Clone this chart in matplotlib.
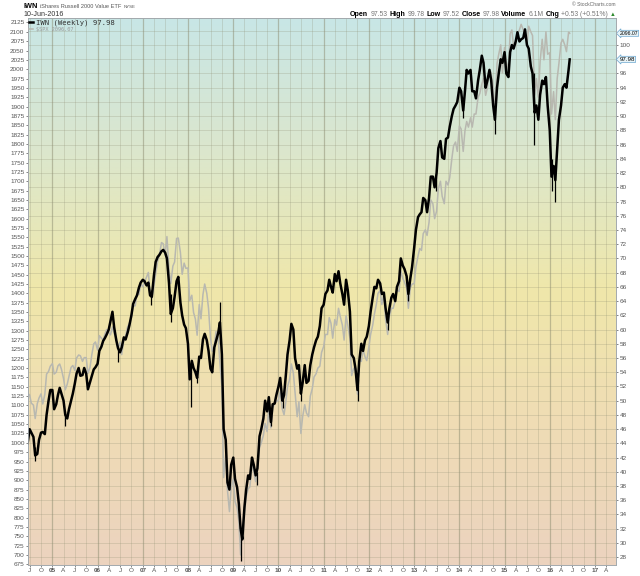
import numpy as np
import pandas as pd
import matplotlib
matplotlib.use("Agg")
import matplotlib.pyplot as plt
import matplotlib.dates as mdates
from matplotlib.colors import LinearSegmentedColormap

# semi-monthly closes (1st and 15th of each month), Jun 2004 .. Jun 2016
iwn_close = [
    44.0, 46.0, 45.5, 44.9, 42.3, 42.5, 44.5, 45.5, 45.6, 45.3, 48.0, 50.0, 51.5,  # 2004
    51.5, 48.8, 49.5, 50.8, 51.8, 51.0, 50.0, 48.0, 47.5, 48.8, 50.0, 51.0,
    52.4, 53.8, 54.6, 53.5, 53.6, 54.6, 53.8, 51.6, 52.6, 53.4, 54.4, 54.7,  # 2005
    55.2, 57.0, 57.6, 58.4, 58.8, 59.3, 60.0, 61.2, 62.5, 60.3, 58.5, 57.4,
    56.8, 57.5, 58.9, 58.6, 59.6, 60.6, 62.0, 63.6, 64.3, 64.8, 65.9, 66.6,  # 2006
    67.0, 66.8, 66.2, 66.6, 64.8, 64.6, 67.6, 69.5, 70.2, 70.5, 71.0, 71.2,
    70.8, 70.0, 66.5, 62.2, 63.0, 64.6, 66.8, 67.4, 63.8, 62.0, 60.7, 60.2,  # 2007
    58.0, 53.0, 55.6, 54.6, 54.0, 53.2, 56.2, 56.0, 58.6, 59.4, 58.5, 57.0,
    54.5, 54.0, 57.5, 58.4, 59.5, 61.0, 56.5, 46.0, 44.5, 38.5, 37.5, 41.0,  # 2008
    42.0, 39.0, 37.8, 35.5, 32.0, 30.5, 35.0, 37.5, 39.5, 39.0, 42.0, 41.0,
    39.5, 40.5, 45.0, 46.0, 47.5, 50.0, 48.5, 50.5, 47.0, 49.5, 49.6, 50.8,  # 2009
    52.0, 53.2, 50.0, 50.8, 53.5, 56.5, 58.5, 60.8, 60.0, 56.0, 54.5, 55.0,
    51.0, 52.5, 55.0, 52.5, 52.8, 55.0, 56.5, 57.5, 58.5, 59.0, 60.5, 63.0,  # 2010
    63.5, 65.0, 65.5, 67.0, 66.0, 65.2, 67.8, 66.8, 68.2, 66.5, 65.0, 63.5,
    67.0, 65.5, 62.5, 56.5, 56.0, 54.5, 51.5, 55.5, 58.0, 57.0, 58.5, 59.0,  # 2011
    60.5, 62.5, 64.5, 66.0, 65.8, 67.0, 66.5, 65.0, 65.2, 63.0, 61.0, 63.0,
    64.5, 65.0, 64.0, 66.0, 66.8, 70.0, 69.0, 68.5, 67.5, 65.0, 67.2, 68.8,  # 2012
    71.5, 74.0, 75.8, 76.2, 76.5, 78.5, 78.2, 76.5, 78.5, 81.5, 81.5, 80.0,
    82.0, 85.5, 86.5, 84.2, 84.0, 86.8, 87.0, 88.5, 90.0, 91.0, 91.5, 92.0,  # 2013
    94.0, 93.5, 90.8, 93.5, 96.5, 96.0, 96.5, 93.5, 93.5, 92.5, 95.0, 96.5,
    98.5, 97.5, 94.0, 95.0, 96.5, 95.0, 91.5, 89.5, 94.0, 96.0, 98.0, 97.5,  # 2014
    99.0, 96.0, 95.5, 99.0, 100.0, 99.5, 100.5, 101.8, 100.5, 100.8, 101.0, 102.2,
    100.0, 99.5, 97.0, 96.0, 90.5, 91.5, 89.5, 93.0, 95.0, 94.5, 95.5, 91.5,  # 2015
    88.0, 81.5, 83.0, 81.0, 85.5, 89.5, 91.5, 94.0, 94.5, 94.0, 96.5, 97.98,  # 2016
]

spx_close = [
    1133, 1128, 1106, 1101, 1065, 1105, 1120, 1131, 1104, 1130, 1184, 1191, 1205,  # 2004
    1212, 1184, 1189, 1206, 1211, 1197, 1172, 1142, 1157, 1178, 1202, 1207,
    1194, 1227, 1235, 1233, 1218, 1228, 1228, 1186, 1202, 1235, 1265, 1270,  # 2005
    1248, 1287, 1280, 1275, 1291, 1303, 1295, 1289, 1310, 1292, 1280, 1252,
    1270, 1236, 1276, 1286, 1311, 1320, 1335, 1365, 1367, 1397, 1397, 1425,  # 2006
    1418, 1430, 1445, 1456, 1403, 1387, 1420, 1452, 1486, 1502, 1536, 1533,
    1503, 1552, 1465, 1426, 1473, 1484, 1547, 1548, 1509, 1451, 1481, 1467,  # 2007
    1468, 1380, 1395, 1349, 1331, 1288, 1370, 1332, 1397, 1425, 1400, 1360,
    1280, 1245, 1260, 1298, 1282, 1213, 1150, 907, 968, 873, 816, 880,  # 2008
    903, 843, 826, 790, 700, 770, 811, 856, 877, 882, 942, 923,
    896, 932, 987, 1000, 1020, 1052, 1030, 1090, 1040, 1093, 1105, 1110,  # 2009
    1115, 1136, 1090, 1075, 1110, 1150, 1170, 1211, 1187, 1135, 1070, 1110,
    1025, 1070, 1102, 1080, 1070, 1125, 1145, 1176, 1185, 1200, 1205, 1242,  # 2010
    1258, 1290, 1290, 1335, 1320, 1280, 1330, 1315, 1360, 1338, 1315, 1275,
    1340, 1315, 1280, 1180, 1200, 1195, 1130, 1220, 1218, 1250, 1230, 1220,  # 2011
    1257, 1290, 1315, 1345, 1370, 1400, 1408, 1370, 1400, 1330, 1290, 1340,
    1360, 1360, 1380, 1410, 1405, 1460, 1440, 1430, 1415, 1360, 1415, 1425,  # 2012
    1426, 1470, 1500, 1520, 1515, 1560, 1570, 1555, 1590, 1650, 1640, 1600,
    1620, 1680, 1700, 1660, 1640, 1700, 1690, 1710, 1760, 1795, 1805, 1780,  # 2013
    1848, 1840, 1780, 1835, 1860, 1845, 1870, 1845, 1880, 1880, 1925, 1935,
    1960, 1975, 1930, 1950, 2000, 1990, 1955, 1880, 2015, 2040, 2065, 1990,  # 2014
    2058, 2020, 2000, 2095, 2105, 2060, 2065, 2095, 2105, 2120, 2105, 2095,
    2065, 2115, 2100, 2090, 1930, 1975, 1925, 2020, 2080, 2025, 2100, 2040,  # 2015
    2044, 1880, 1940, 1865, 1975, 2015, 2070, 2080, 2065, 2047, 2099, 2096.07,  # 2016
]
last_date = "2016-06-10"

# weekly bar extremes that stick out of the close line
wick_dates = ["2004-08-13", "2005-04-15", "2006-06-13", "2007-03-05", "2007-08-16",
              "2008-01-22", "2008-03-10", "2008-09-19", "2009-03-06", "2009-07-10",
              "2009-11-02", "2010-02-05", "2010-07-02", "2011-10-04", "2012-06-04",
              "2012-11-15", "2013-06-24", "2014-02-03", "2014-10-15", "2015-08-24",
              "2016-01-20", "2016-02-11"]
wick_low = [41.5, 46.5, 55.5, 63.5, 61.0, 49.1, 52.5, 58.0, 27.5, 38.2, 46.5, 49.0,
            50.0, 50.0, 60.0, 64.0, 79.5, 89.8, 87.5, 86.0, 79.5, 78.0]
wick_high = [43.5, 48.5, 57.5, 65.5, 65.0, 55.0, 54.5, 63.9, 31.5, 40.0, 48.0, 51.0,
             52.0, 53.0, 62.0, 65.5, 81.5, 91.5, 91.0, 96.0, 84.0, 83.0]

spx_ticks = list(range(675, 2126, 25))
iwn_ticks = list(range(28, 101, 2))
iwn_grid = list(range(28, 103, 2))

dates = pd.date_range("2004-06-15", "2016-06-01", freq="SMS").append(pd.DatetimeIndex([last_date]))
quarters = pd.date_range("2004-07-01", "2017-04-01", freq="QS")
q_labels = [f"{d.year % 100:02d}" if d.month == 1 else {4: "A", 7: "J", 10: "O"}[d.month] for d in quarters]

W, H = 640, 576
FONT = ["Liberation Sans", "DejaVu Sans"]
plt.rcParams["font.family"] = FONT

fig = plt.figure(figsize=(W / 100, H / 100), dpi=100)
pos = [28 / W, 1 - 565 / H, (616 - 28) / W, (565 - 18) / H]
xlim = (pd.Timestamp("2004-06-18"), pd.Timestamp("2017-06-19"))
spx_lim = (673, 2137)
iwn_lim = (26.9, 103.8)

# background gradient + grid
bg = fig.add_axes(pos, zorder=0)
grad = LinearSegmentedColormap.from_list(
    "bg", ["#c8e6e6", "#dce7cc", "#f0e7aa", "#efdcb5", "#ecd3bf"])
bg.imshow(np.linspace(0, 1, 256).reshape(-1, 1), cmap=grad, aspect="auto",
          extent=[0, 1, 0, 1], transform=bg.transAxes)
bg.set_xlim(mdates.date2num(xlim[0]), mdates.date2num(xlim[1]))
bg.set_ylim(*iwn_lim)
for v in iwn_grid:
    bg.axhline(v, color="#8c8c70", alpha=0.28, lw=0.6)
for d in quarters:
    yr = d.month == 1
    bg.axvline(mdates.date2num(d), color="#8c8c70", alpha=0.5 if yr else 0.28, lw=0.9 if yr else 0.6)
bg.axis("off")

ax = fig.add_axes(pos, zorder=1)
ax.patch.set_visible(False)
spx_line, = ax.plot(dates, spx_close, color="#b8b8b0", lw=1.1)
ax.set_xlim(*xlim)
ax.set_ylim(*spx_lim)

ax2 = ax.twinx()
iwn_line, = ax2.plot(dates, iwn_close, color="black", lw=1.8)
ax2.vlines(pd.to_datetime(wick_dates), wick_low, wick_high, color="black", lw=0.9)
ax2.set_ylim(*iwn_lim)

ax.set_yticks(spx_ticks)
ax2.set_yticks(iwn_ticks)
# the 98 label sits under the last-value tag, as in the original
ax2.set_yticklabels(["" if v == 98 else str(v) for v in iwn_ticks])
ax.set_xticks(quarters)
ax.set_xticklabels(q_labels)
for lbl, d in zip(ax.get_xticklabels(), quarters):
    if d.month == 1:
        lbl.set_fontweight("bold")
        lbl.set_color("black")

for a in (ax, ax2):
    a.tick_params(labelsize=4.6, length=1.5, width=0.5, pad=1, colors="#555555")
    for s in a.spines.values():
        s.set_color("#a3a9ad")
        s.set_linewidth(0.6)

# legend in the top-left corner
leg = ax2.legend([iwn_line, spx_line], ["IWN (Weekly) 97.98", r"\$SPX 2096.07"],
                 loc="upper left", bbox_to_anchor=(0, 1), frameon=False, borderaxespad=0.1,
                 borderpad=0.1, handlelength=0.5, handletextpad=0.4, labelspacing=0.05,
                 prop={"family": "DejaVu Sans Mono", "size": 5.2})
leg.get_texts()[0].set_color("#333333")
leg.get_texts()[1].set_color("#999999")
leg.get_texts()[1].set_fontsize(3.8)

# last-value tags on the right
tag = dict(boxstyle="larrow,pad=0.1", fc="#e8f4f8", ec="#6aa6cf", lw=0.5)
ax2.text(1.006, iwn_close[-1], f"{iwn_close[-1]:.2f}", transform=ax2.get_yaxis_transform(),
         fontsize=4.4, va="center", ha="left", bbox=tag)
ax.text(1.006, spx_close[-1], f"{spx_close[-1]:.2f}", transform=ax.get_yaxis_transform(),
        fontsize=3.7, va="center", ha="left", bbox=tag)

# header texts
renderer = fig.canvas.get_renderer()


def chain(x, y, parts, right=False, gap=2.0):
    seq = reversed(parts) if right else parts
    for s, kw in seq:
        t = fig.text(x / W, 1 - y / H, s, va="center", ha="right" if right else "left", **kw)
        bb = t.get_window_extent(renderer=renderer)
        x = (bb.x0 - gap) if right else (bb.x1 + gap)


bold = dict(fontsize=5.1, fontweight="bold", color="black")
val = dict(fontsize=4.9, color="#777777")
chain(24, 6.5, [("IWN", dict(fontsize=5.3, fontweight="bold", color="black")),
                ("iShares Russell 2000 Value ETF", dict(fontsize=4.1, color="#555555")),
                ("NYSE", dict(fontsize=3.2, color="#555555"))], gap=1.8)
fig.text(24 / W, 1 - 14.7 / H, "10-Jun-2016", fontsize=5.1, color="#333333", va="center")
fig.text(616 / W, 1 - 5 / H, "\u00a9 StockCharts.com", fontsize=3.6, color="#666666",
         va="center", ha="right")
chain(616, 14.7, [("Open", bold), ("97.53", val), ("High", bold), ("99.78", val),
                  ("Low", bold), ("97.52", val), ("Close", bold), ("97.98", val),
                  ("Volume", bold), ("6.1M", val), ("Chg", bold), ("+0.53 (+0.51%)", val),
                  ("\u25b2", dict(fontsize=4.2, color="#2e8b2e", family=FONT))], right=True)

fig.savefig("out.png", dpi=100)
